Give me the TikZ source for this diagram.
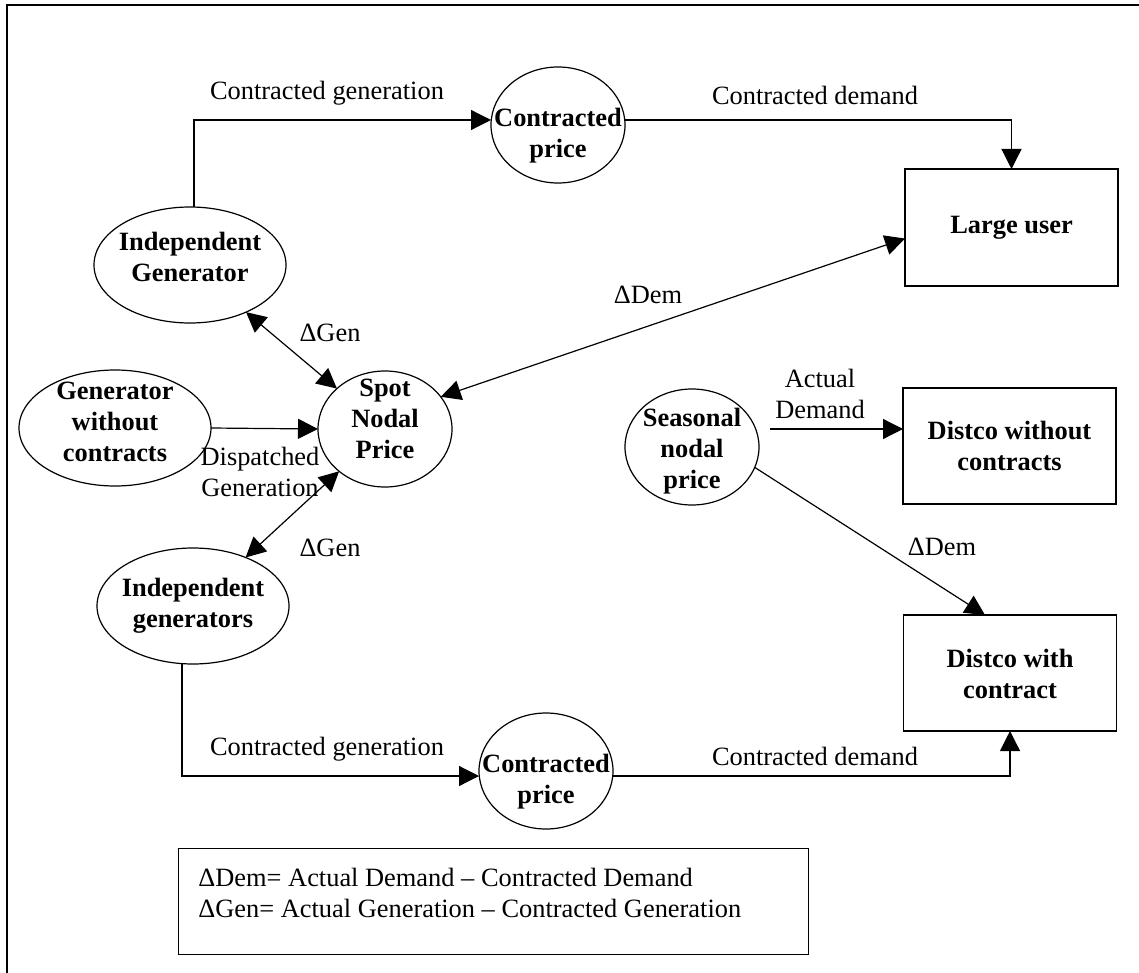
\documentclass[tikz,border=0pt]{standalone}
\usepackage{fontspec}
\setmainfont{Liberation Serif}
\usetikzlibrary{shapes.geometric,arrows.meta}
\newcommand\mvtext[2]{\raisebox{#1}[\height][\depth]{\begin{tabular}{@{}c@{}}#2\end{tabular}}}
\begin{document}
\begin{tikzpicture}[x=0.5pt,y=-0.5pt,
 ell/.style={ellipse, draw, line width=0.6pt, font=\fontsize{13.2}{15.5}\selectfont\bfseries, align=center, inner xsep=-10pt, inner ysep=-8pt, outer sep=0pt},
 big/.style={minimum width=96pt, minimum height=58pt},
 small/.style={minimum width=67pt, minimum height=58pt},
 box/.style={rectangle, draw, line width=0.6pt, font=\fontsize{13.2}{15.5}\selectfont\bfseries, align=center, minimum width=106.5pt, minimum height=58.5pt, inner sep=0pt, outer sep=0pt},
 arr/.style={line width=0.6pt, -{Triangle[length=10pt,width=10pt]}},
 darr/.style={line width=0.6pt, {Triangle[length=10pt,width=10pt]}-{Triangle[length=10pt,width=10pt]}},
 lbl/.style={font=\fontsize{13.2}{15.5}\selectfont, align=center, inner sep=0pt}]

\useasboundingbox (0,0) rectangle (1139,973);
\draw[line width=1pt] (7,973) -- (7,5) -- (1139,5);

% nodes
\node[ell, big] (ig) at (190,265) {\mvtext{2.5pt}{Independent\\Generator}};
\node[ell, small] (cp1) at (558,125) {\mvtext{-5.5pt}{Contracted\\price}};
\node[box] (lu) at (1011.5,227.5) {Large user};
\node[ell, big] (gwc) at (115,428) {\mvtext{1.75pt}{Generator\\without\\contracts}};
\node[ell, small] (spot) at (385,429) {\mvtext{4pt}{Spot\\Nodal\\Price}};
\node[ell, big] (ig2) at (193,606) {Independent\\generators};
\node[ell, small] (snp) at (692,447) {\mvtext{-2pt}{Seasonal\\nodal\\price}};
\node[box, minimum height=58pt] (dwo) at (1009.5,446) {Distco without\\contracts};
\node[box, minimum height=58pt] (dw) at (1010,673) {\mvtext{-2pt}{Distco with\\contract}};
\node[ell, small] (cp2) at (546,771) {\mvtext{-5.5pt}{Contracted\\price}};

% connectors
\draw[arr] ([xshift=2pt]ig.north) |- ([yshift=2.5pt]cp1.west);
\draw[arr] ([yshift=2.5pt]cp1.east) -| (lu.north);
\draw[darr] (ig) -- (spot);
\draw[darr] (spot.30) -- ([yshift=-5.5pt]lu.west);
\draw[arr] (gwc.east) -- (spot.west);
\draw[darr] (spot) -- (ig2);
\draw[arr] ([xshift=5.5pt,yshift=9pt]snp.east) -- ([yshift=8.5pt]dwo.west);
\draw[arr] (snp.-18) -- ([xshift=-12.5pt]dw.north);
\draw[arr] ([xshift=-5.5pt]ig2.south) |- ([yshift=-2.5pt]cp2.west);
\draw[arr] ([yshift=-2.5pt]cp2.east) -| (dw.south);

% labels
\node[lbl] (l1) at (327,93) {Contracted generation};
\node[lbl] (l2) at (815,95) {Contracted demand};
\node[lbl] (l3) at (648,295) {ΔDem};
\node[lbl] (l4) at (330,333) {ΔGen};
\node[lbl] (l5) at (260,472) {Dispatched\\Generation};
\node[lbl] (l6) at (330,548) {ΔGen};
\node[lbl] (l7) at (820,394) {Actual\\Demand};
\node[lbl] (l8) at (942,547) {ΔDem};
\node[lbl] (l9) at (327,749) {Contracted generation};
\node[lbl] (l10) at (815,756) {Contracted demand};

% legend
\node[draw, line width=0.6pt, minimum width=315pt, minimum height=53pt, anchor=north west, inner sep=0pt] (legend) at (178,848) {};
\node[lbl, align=left, anchor=west] (legtxt) at (198,892.5) {ΔDem= Actual Demand – Contracted Demand\\ΔGen= Actual Generation – Contracted Generation};
\end{tikzpicture}
\end{document}
